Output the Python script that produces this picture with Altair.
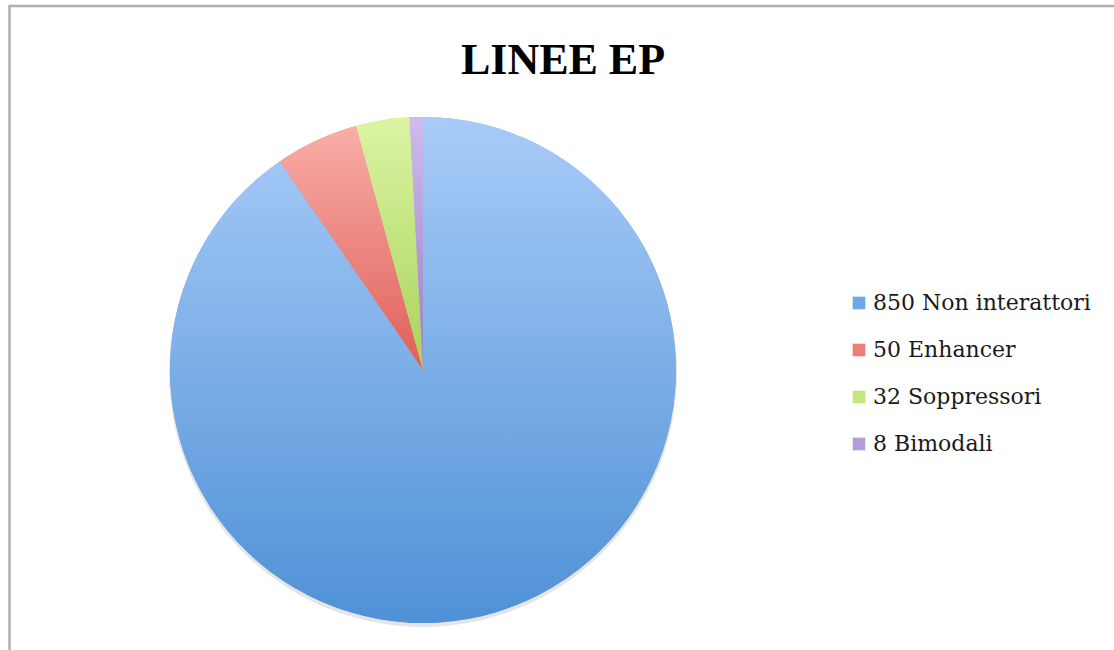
import altair as alt
import pandas as pd

categories = ["850 Non interattori", "50 Enhancer", "32 Soppressori", "8 Bimodali"]
values = [850, 50, 32, 8]
order = [0, 1, 2, 3]
solid_colors = ["#6fa6e6", "#ee7f78", "#c4e67f", "#b49bd9"]
grad_top = ["#a8cbf8", "#f9aea8", "#dcf4a3", "#cdbcec"]
grad_bottom = ["#4f91d6", "#df5e58", "#a8d35c", "#9a7ec8"]

df = pd.DataFrame({"cat": categories, "value": values, "ord": order})


def grad(i):
    return {
        "gradient": "linear",
        "x1": 0, "y1": 0, "x2": 0, "y2": 1,
        "stops": [
            {"offset": 0, "color": grad_top[i]},
            {"offset": 1, "color": grad_bottom[i]},
        ],
    }


CX, CY, R = 423, 370, 253

base = alt.Chart(df).encode(
    theta=alt.Theta("value:Q", stack=True),
    order=alt.Order("ord:Q"),
    x=alt.value(CX),
    y=alt.value(CY),
)

shadow = alt.Chart(df).mark_arc(outerRadius=R + 1, color="#000000", opacity=0.10).encode(
    theta=alt.Theta("value:Q", stack=True),
    order=alt.Order("ord:Q"),
    x=alt.value(CX),
    y=alt.value(CY + 3),
)

legend_layer = base.mark_arc(outerRadius=R).encode(
    color=alt.Color(
        "cat:N",
        scale=alt.Scale(domain=categories, range=solid_colors),
        sort=categories,
        legend=alt.Legend(
            title=None,
            orient="none",
            legendX=848,
            legendY=292,
            symbolType="square",
            symbolSize=160,
            symbolStrokeWidth=0,
            labelFont="DejaVu Serif",
            labelFontSize=22,
            labelColor="#1a1a1a",
            labelOffset=3,
            rowPadding=25,
            labelLimit=400,
        ),
    )
)

conds = [
    {"test": f"datum.cat === '{categories[i]}'", "value": grad(i)}
    for i in range(1, len(categories))
]
grad_layer = base.mark_arc(outerRadius=R).encode(
    color={"value": grad(0), "condition": conds}
)

title = alt.Chart(alt.Data(values=[{"t": "LINEE EP"}])).mark_text(
    font="Liberation Serif",
    fontSize=44,
    fontWeight="bold",
    color="#000000",
    align="center",
    baseline="alphabetic",
).encode(text="t:N", x=alt.value(563), y=alt.value(74))

border = alt.Chart(alt.Data(values=[{"a": 1}])).mark_rect(
    fillOpacity=0, stroke="#b0b0b0", strokeWidth=2.5
).encode(x=alt.value(9.5), y=alt.value(6), x2=alt.value(1140), y2=alt.value(680))

chart = (
    alt.layer(border, shadow, legend_layer, grad_layer, title)
    .properties(width=1114, height=650, autosize="none", padding=0, background="white")
    .configure_view(strokeWidth=0)
)

chart.save("out.html", embed_options={"renderer": "svg", "actions": False})
